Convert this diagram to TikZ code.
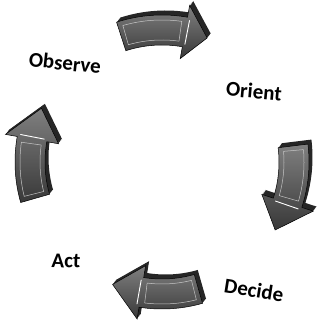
\documentclass[tikz,border=0pt]{standalone}
\usepackage{fontspec}
\setmainfont{Carlito}

\begin{document}
\begin{tikzpicture}[
    x=1pt, y=1pt,
    lbl/.style={font=\fontsize{21}{25}\selectfont\bfseries, text=black, inner sep=0pt},
    depth/.style={fill=black!85},
    face/.style={top color=black!50, bottom color=black!78, draw=black, line width=0.5pt},
    bevel/.style={draw=gray!45, line width=0.5pt},
    shine/.style={draw=white, line width=0.9pt, line cap=round},
]
\useasboundingbox (0,0) rectangle (323,323);
\clip (0,0) rectangle (323,323);

\coordinate (C) at (162,161);

% Curved 3D arrows (tail angle / head base angle / tip angle)
\begin{scope}[shift={(C)}]
\foreach \ta/\hb/\tp in {108/80/70, 7/-18/-31, -74/-99/-112, 196/170/156}{
    \def\arrowpath{(\ta:147) arc[start angle=\ta, end angle=\hb, radius=147]
        -- (\hb:159) -- (\tp:132) -- (\hb:105) -- (\hb:117)
        arc[start angle=\hb, end angle=\ta, radius=117] -- cycle}
    % extrusion
    \foreach \d in {1,...,5}
        \path[depth, shift={(0.7*\d,0.9*\d)}] \arrowpath;
    % front face
    \path[face] \arrowpath;
    % bevel
    \draw[bevel] ({\ta-2}:142) arc[start angle={\ta-2}, end angle={\hb+2}, radius=142]
        -- ({\hb+2}:122) arc[start angle={\hb+2}, end angle={\ta-2}, radius=122] -- cycle;
    % highlight
    \draw[shine] ({\hb-1}:120) -- ({\hb-1}:144);
}
\end{scope}

% Labels
\node[lbl, rotate=-6] (observe) at (65,260) {Observe};
\node[lbl, rotate=-5] (orient) at (254,232) {Orient};
\node[lbl, rotate=-9] (decide) at (254,33) {Decide};
\node[lbl, rotate=-2] (act) at (66,62) {Act};

\end{tikzpicture}
\end{document}
